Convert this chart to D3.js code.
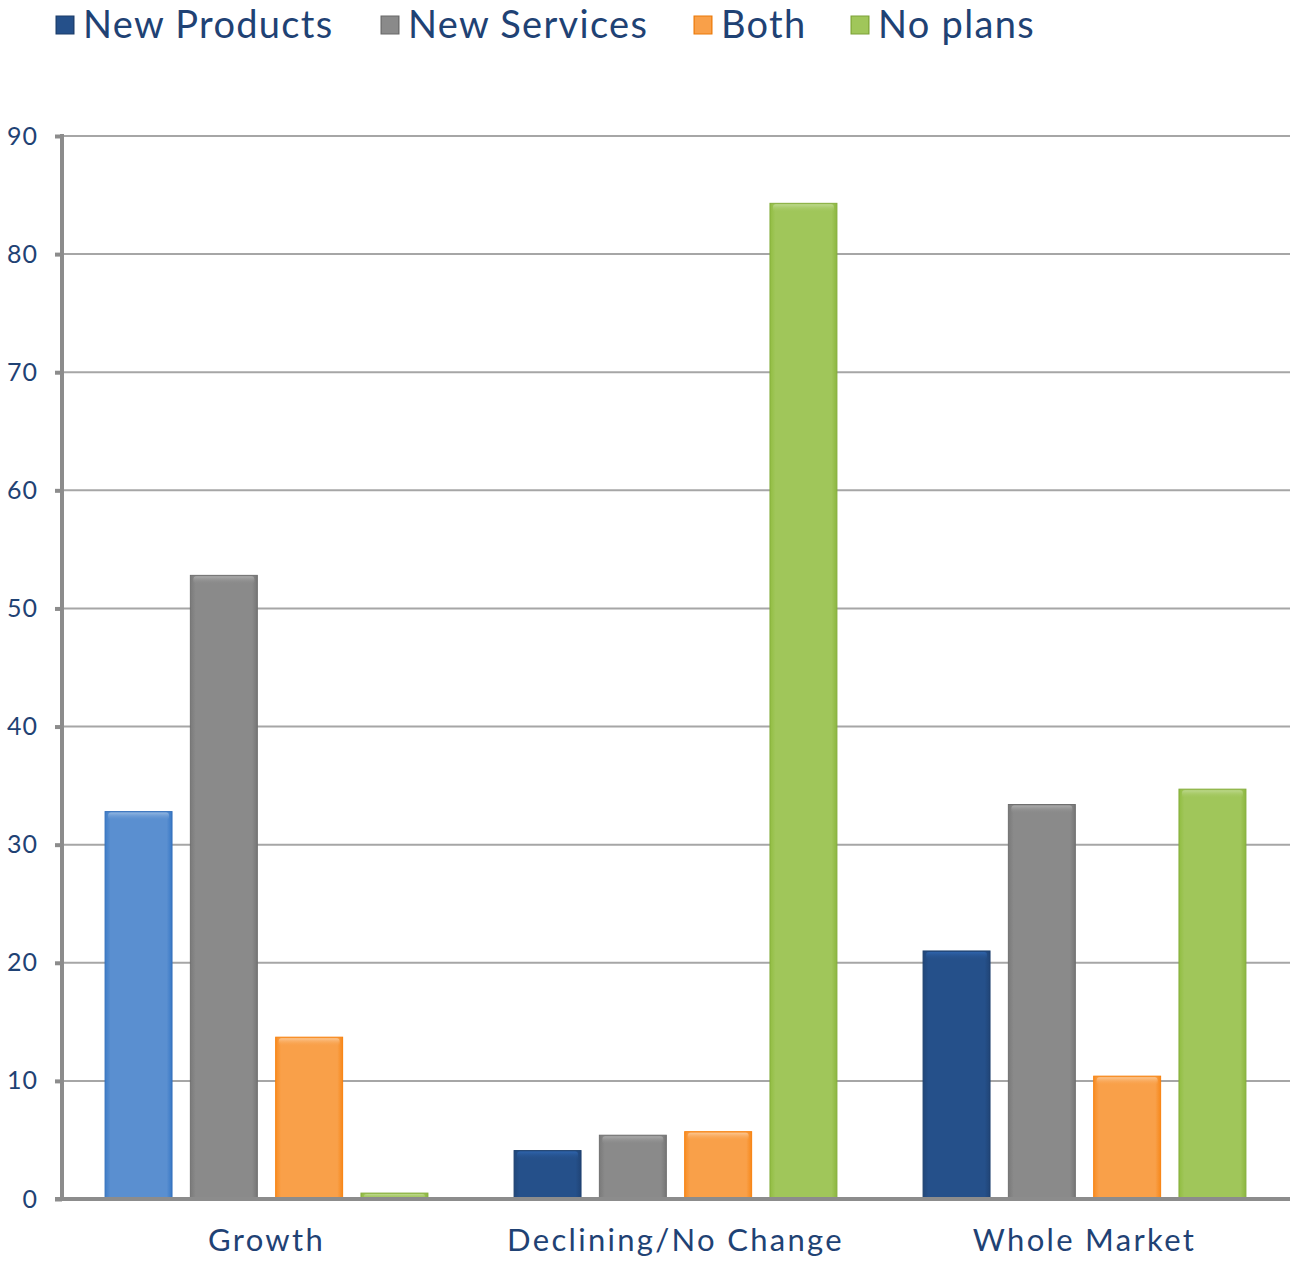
<!DOCTYPE html>
<html>
<head>
<meta charset="utf-8">
<script src="https://cdn.jsdelivr.net/npm/d3@7"></script>
<style>
  body { margin: 0; background: #fff; }
  svg { display: block; font-family: 'Lato', 'Open Sans', sans-serif; }
</style>
</head>
<body>
<svg id="chart" width="1290" height="1261"></svg>
<script>
const categories = ['Growth', 'Declining/No Change', 'Whole Market'];
const series = ['New Products', 'New Services', 'Both', 'No plans'];
const newProducts = [32.8, 4.1, 21.0];
const newServices = [52.8, 5.4, 33.4];
const both = [13.7, 5.7, 10.4];
const noPlans = [0.5, 84.3, 34.7];
const yTicks = [0, 10, 20, 30, 40, 50, 60, 70, 80, 90];

const colors = {
  'New Products': '#25508a',
  'New Services': '#8a8a8a',
  'Both': '#f9a049',
  'No plans': '#a0c65a'
};
// the first blue bar is drawn lighter in the original
const lightBlue = '#5a8fd0';

const values = [newProducts, newServices, both, noPlans];
const rows = categories.map((c, i) => ({
  category: c,
  bars: series.map((s, j) => ({ series: s, value: values[j][i], cat: i }))
}));

const svg = d3.select('#chart');
const plotL = 62, plotR = 1289, plotT = 136, plotB = 1199;

const x0 = d3.scaleBand().domain(categories).range([plotL, plotR]).padding(0);
const x1 = d3.scaleBand().domain(series).range([0, x0.bandwidth()])
  .paddingInner(0.215).paddingOuter(0.505);
const y = d3.scaleLinear().domain([0, 90]).range([plotB, plotT]);

const defs = svg.append('defs');
function shade(c, k) {
  const h = d3.hsl(c);
  return k > 0 ? h.brighter(k).formatHex() : h.darker(-k).formatHex();
}
function gradFor(id, c) {
  const g = defs.append('linearGradient').attr('id', id)
    .attr('x1', 0).attr('x2', 1).attr('y1', 0).attr('y2', 0);
  g.append('stop').attr('offset', 0).attr('stop-color', shade(c, -0.35));
  g.append('stop').attr('offset', 0.08).attr('stop-color', c);
  g.append('stop').attr('offset', 0.92).attr('stop-color', c);
  g.append('stop').attr('offset', 1).attr('stop-color', shade(c, -0.45));
  const t = defs.append('linearGradient').attr('id', id + '-top')
    .attr('x1', 0).attr('x2', 0).attr('y1', 0).attr('y2', 1);
  t.append('stop').attr('offset', 0).attr('stop-color', shade(c, 0.6));
  t.append('stop').attr('offset', 1).attr('stop-color', c).attr('stop-opacity', 0);
}
series.forEach((s, i) => gradFor('g' + i, colors[s]));
gradFor('gLight', lightBlue);

// gridlines
svg.append('g')
  .selectAll('line')
  .data(yTicks.filter(d => d > 0))
  .join('line')
  .attr('x1', plotL).attr('x2', 1290)
  .attr('y1', d => y(d)).attr('y2', d => y(d))
  .attr('stroke', '#a6a6a6').attr('stroke-width', 2);

// bars
const groups = svg.append('g')
  .selectAll('g')
  .data(rows)
  .join('g')
  .attr('transform', d => `translate(${x0(d.category)},0)`);

const bar = groups.selectAll('g.bar')
  .data(d => d.bars)
  .join('g').attr('class', 'bar');

function gid(d) {
  if (d.cat === 0 && d.series === 'New Products') return 'gLight';
  return 'g' + series.indexOf(d.series);
}
function baseColor(d) {
  return gid(d) === 'gLight' ? lightBlue : colors[d.series];
}

bar.append('rect')
  .attr('x', d => x1(d.series))
  .attr('y', d => y(d.value))
  .attr('width', x1.bandwidth())
  .attr('height', d => y(0) - y(d.value))
  .attr('fill', d => `url(#${gid(d)})`)
  .attr('stroke', d => shade(baseColor(d), -0.6))
  .attr('stroke-width', 1);

bar.append('rect')
  .attr('x', d => x1(d.series) + 3)
  .attr('y', d => y(d.value) + 1)
  .attr('width', x1.bandwidth() - 6)
  .attr('height', d => Math.min(8, y(0) - y(d.value) - 1))
  .attr('rx', 3)
  .attr('fill', d => `url(#${gid(d)}-top)`);

// y axis
const yAxis = svg.append('g')
  .attr('transform', `translate(${plotL},0)`)
  .call(d3.axisLeft(y).tickValues(yTicks).tickSize(7).tickPadding(17));
yAxis.select('.domain').attr('stroke', '#8c8c8c').attr('stroke-width', 4)
  .attr('d', `M0,${plotT - 2}V${plotB}`);
yAxis.selectAll('.tick line').attr('stroke', '#8c8c8c').attr('stroke-width', 4);
yAxis.selectAll('.tick text')
  .attr('fill', '#1f4274')
  .style('font-size', '25px')
  .style('letter-spacing', '1px')
  .style('font-family', "'Lato', sans-serif");

// x axis
const xAxis = svg.append('g')
  .attr('transform', `translate(0,${plotB})`)
  .call(d3.axisBottom(x0).tickSize(0).tickPadding(30));
xAxis.select('.domain').attr('stroke', '#8c8c8c').attr('stroke-width', 4)
  .attr('d', `M55,0H1290`);
xAxis.selectAll('.tick text')
  .attr('fill', '#1f4274')
  .style('font-size', '31px')
  .style('letter-spacing', '2.3px')
  .style('font-family', "'Lato', sans-serif");

// legend
const legendX = [56, 381, 694, 851];
const legend = svg.append('g')
  .selectAll('g')
  .data(series)
  .join('g')
  .attr('transform', (d, i) => `translate(${legendX[i]},16)`);
legend.append('rect')
  .attr('width', 18).attr('height', 18)
  .attr('fill', (d, i) => `url(#g${i})`)
  .attr('stroke', d => shade(colors[d], -0.8))
  .attr('stroke-width', 1);
legend.append('text')
  .attr('x', 27).attr('y', 22)
  .attr('fill', '#1f4274')
  .style('font-size', '38px')
  .style('letter-spacing', '1.3px')
  .text(d => d);
</script>
</body>
</html>
